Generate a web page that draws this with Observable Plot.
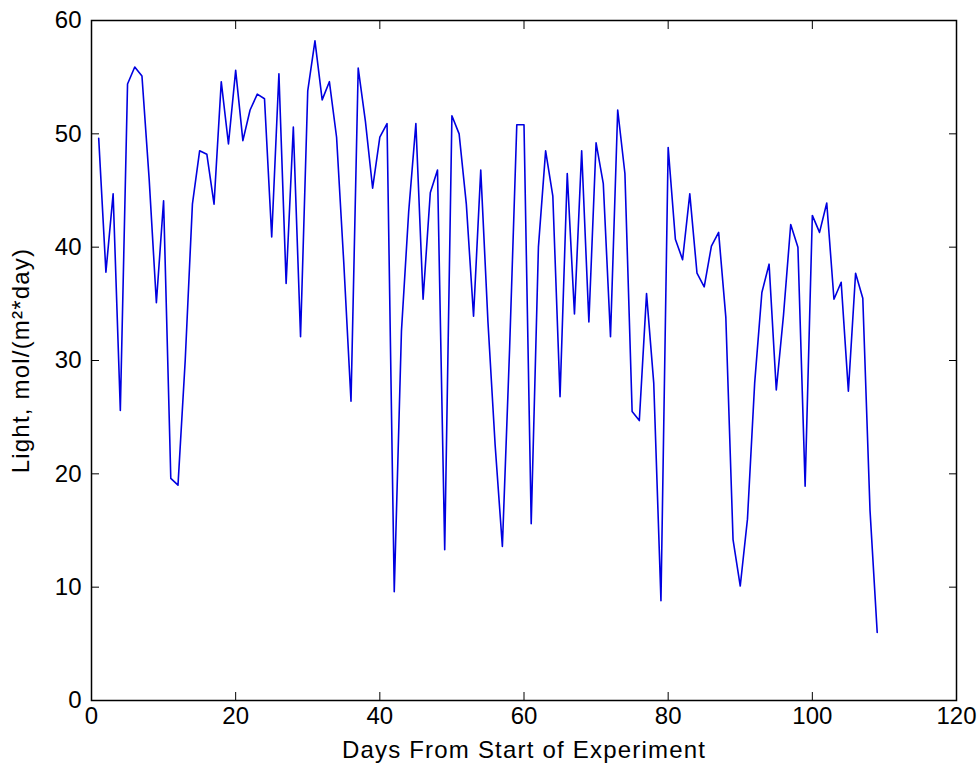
<!DOCTYPE html>
<html><head><meta charset="utf-8">
<script src="https://cdn.jsdelivr.net/npm/d3@7"></script>
<script src="https://cdn.jsdelivr.net/npm/@observablehq/plot@0.6"></script>
<style>body{margin:0;background:#fff} svg{display:block}</style>
</head><body><div id="chart"></div>
<script>
const days = d3.range(1, 110);
const light = [
  49.6, 37.8, 44.7, 25.6, 54.4, 55.9, 55.1, 46.0, 35.1, 44.1,
  19.6, 19.0, 30.0, 43.8, 48.5, 48.2, 43.8, 54.6, 49.1, 55.6,
  49.4, 52.1, 53.5, 53.1, 40.9, 55.3, 36.8, 50.6, 32.1, 53.8,
  58.2, 53.0, 54.6, 49.7, 38.6, 26.4, 55.8, 51.1, 45.2, 49.7,
  50.9, 9.6, 32.6, 43.1, 50.9, 35.4, 44.8, 46.8, 13.3, 51.6,
  50.0, 43.8, 33.9, 46.8, 33.4, 22.5, 13.6, 31.0, 50.8, 50.8,
  15.6, 40.0, 48.5, 44.5, 26.8, 46.5, 34.1, 48.5, 33.4, 49.2,
  45.6, 32.1, 52.1, 46.5, 25.5, 24.7, 35.9, 28.0, 8.8, 48.8,
  40.7, 38.9, 44.7, 37.7, 36.5, 40.1, 41.3, 33.8, 14.2, 10.1,
  16.0, 28.0, 36.0, 38.5, 27.4, 34.0, 42.0, 40.0, 18.9, 42.8,
  41.3, 43.9, 35.4, 36.9, 27.3, 37.7, 35.5, 16.8, 6.0
];
const xTicks = [0, 20, 40, 60, 80, 100, 120];
const yTicks = [0, 10, 20, 30, 40, 50, 60];
const xLabel = "Days From Start of Experiment";
const yLabel = "Light, mol/(m²*day)";

const data = days.map((d, i) => ({day: d, light: light[i]}));

const chart = Plot.plot({
  width: 977,
  height: 771,
  marginLeft: 91,
  marginRight: 21,
  marginTop: 20,
  marginBottom: 71,
  style: {fontFamily: "'Liberation Sans', Arial, sans-serif", fontSize: "24px", background: "#fff", color: "#000", overflow: "visible"},
  x: {domain: [0, 120]},
  y: {domain: [0, 60]},
  marks: [
    Plot.line(data, {x: "day", y: "light", stroke: "#0000e0", strokeWidth: 1.6}),
    Plot.frame({stroke: "#000", strokeWidth: 1.5}),
    Plot.axisX({ticks: xTicks, tickSize: -8, tickPadding: 14, label: xLabel, labelAnchor: "center", labelArrow: "none", labelOffset: 57, fontSize: 24}),
    Plot.axisX({anchor: "top", ticks: xTicks, tickSize: -8, tickFormat: () => "", label: null}),
    Plot.axisY({ticks: yTicks, tickSize: -8, tickPadding: 18, label: yLabel, labelAnchor: "center", labelArrow: "none", labelOffset: 80, fontSize: 24}),
    Plot.axisY({anchor: "right", ticks: yTicks, tickSize: -8, tickFormat: () => "", label: null})
  ]
});
d3.select(chart).selectAll('g[aria-label="x-axis label"] text, g[aria-label="y-axis label"] text')
  .style("letter-spacing", "1.2px");
document.getElementById("chart").append(chart);
</script>
</body></html>
